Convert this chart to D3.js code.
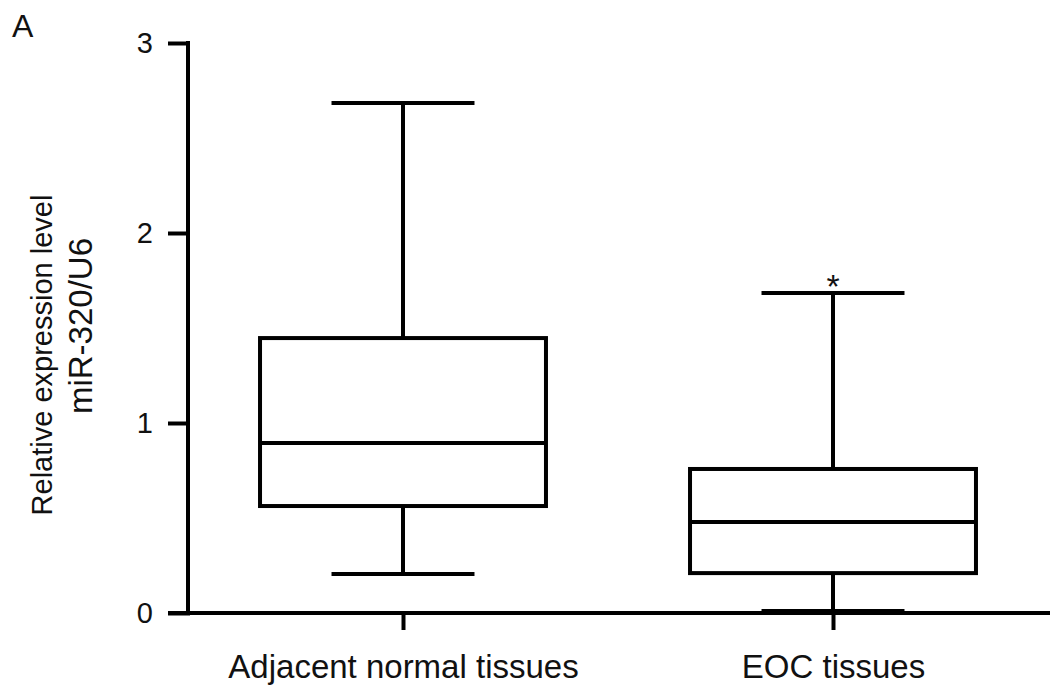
<!DOCTYPE html>
<html>
<head>
<meta charset="utf-8">
<script src="https://cdn.jsdelivr.net/npm/d3@7"></script>
<style>
  body { margin: 0; background: #fff; }
  svg { display: block; font-family: "Liberation Sans", Arial, sans-serif; }
</style>
</head>
<body>
<svg id="chart" width="1063" height="699"></svg>
<script>
const categories = ['Adjacent normal tissues', 'EOC tissues'];
const whiskerLow = [0.205, 0.01];
const q1 = [0.563, 0.21];
const median = [0.895, 0.479];
const q3 = [1.447, 0.758];
const whiskerHigh = [2.684, 1.684];
const yTicks = [0, 1, 2, 3];
const significance = ['', '*'];

const svg = d3.select('#chart');
const margin = { left: 188, right: 15, top: 43, bottom: 86 };
const width = 1063, height = 699;
const stroke = 4;
const ink = '#111';

const x = d3.scalePoint().domain(categories).range([margin.left, width - margin.right]).padding(0.5);
const y = d3.scaleLinear().domain([0, 3]).range([height - margin.bottom, margin.top]);
const step = x.step();
const boxW = step * 0.665;
const capW = boxW / 2;

const boxes = categories.map((c, i) => ({
  c, lo: whiskerLow[i], q1: q1[i], med: median[i], q3: q3[i], hi: whiskerHigh[i], sig: significance[i],
}));

const g = svg.append('g');

// whiskers
g.selectAll('line.whisker-v')
  .data(boxes)
  .join('line')
  .attr('x1', (d) => x(d.c)).attr('x2', (d) => x(d.c))
  .attr('y1', (d) => y(d.lo)).attr('y2', (d) => y(d.hi))
  .attr('stroke', '#000').attr('stroke-width', stroke);

for (const key of ['lo', 'hi']) {
  g.selectAll(`line.cap-${key}`)
    .data(boxes)
    .join('line')
    .attr('x1', (d) => x(d.c) - capW / 2).attr('x2', (d) => x(d.c) + capW / 2)
    .attr('y1', (d) => y(d[key])).attr('y2', (d) => y(d[key]))
    .attr('stroke', '#000').attr('stroke-width', stroke);
}

g.selectAll('rect.box')
  .data(boxes)
  .join('rect')
  .attr('x', (d) => x(d.c) - boxW / 2)
  .attr('width', boxW)
  .attr('y', (d) => y(d.q3))
  .attr('height', (d) => y(d.q1) - y(d.q3))
  .attr('fill', '#fff').attr('stroke', '#000').attr('stroke-width', stroke);

g.selectAll('line.median')
  .data(boxes)
  .join('line')
  .attr('x1', (d) => x(d.c) - boxW / 2).attr('x2', (d) => x(d.c) + boxW / 2)
  .attr('y1', (d) => y(d.med)).attr('y2', (d) => y(d.med))
  .attr('stroke', '#000').attr('stroke-width', stroke);

g.selectAll('text.sig')
  .data(boxes.filter((d) => d.sig))
  .join('text')
  .attr('x', (d) => x(d.c))
  .attr('y', (d) => y(d.hi) + 5)
  .attr('text-anchor', 'middle')
  .attr('font-size', 34)
  .attr('fill', ink)
  .text((d) => d.sig);

// axes
const yAxis = d3.axisLeft(y).tickValues(yTicks).tickFormat(d3.format('d')).tickSize(18).tickPadding(17);
const yg = svg.append('g').attr('transform', `translate(${margin.left},0)`).call(yAxis);
yg.select('.domain').attr('d', `M0,${y(3)}V${y(0)}`);

const xAxis = d3.axisBottom(x).tickSize(15).tickPadding(27);
const xg = svg.append('g').attr('transform', `translate(0,${y(0)})`).call(xAxis);
xg.select('.domain').attr('d', `M${margin.left - 18},0H${width - margin.right}`);

for (const ax of [yg, xg]) {
  ax.selectAll('.domain, .tick line').attr('stroke', '#000').attr('stroke-width', stroke).attr('stroke-linecap', 'square');
  ax.selectAll('.tick text').attr('fill', ink).attr('font-family', '"Liberation Sans", Arial, sans-serif');
}
yg.selectAll('.tick text').attr('font-size', 29);
xg.selectAll('.tick text').attr('font-size', 33);

// y label, two lines
svg.append('text')
  .attr('transform', `translate(52,355) rotate(-90)`)
  .attr('text-anchor', 'middle')
  .attr('font-size', 29)
  .attr('fill', ink)
  .text('Relative expression level');
svg.append('text')
  .attr('transform', `translate(92,326) rotate(-90)`)
  .attr('text-anchor', 'middle')
  .attr('font-size', 33)
  .attr('fill', ink)
  .text('miR-320/U6');

svg.append('text').attr('x', 12).attr('y', 37).attr('font-size', 32).attr('fill', ink).text('A');
</script>
</body>
</html>
